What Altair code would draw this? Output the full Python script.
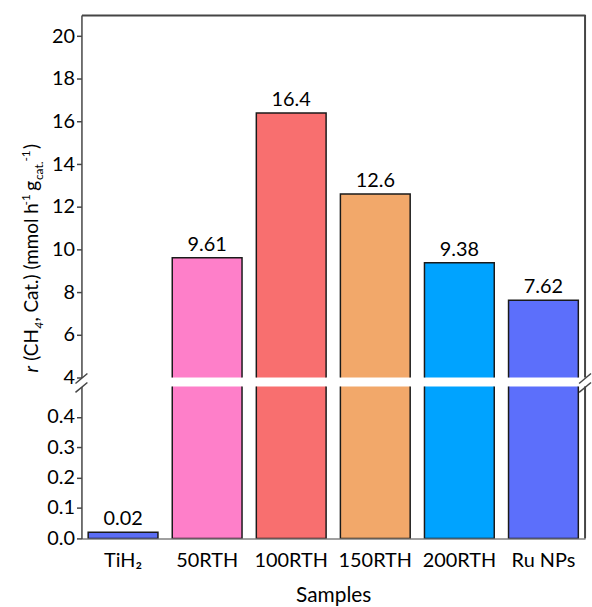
import altair as alt
import pandas as pd

samples = ["TiH₂", "50RTH", "100RTH", "150RTH", "200RTH", "Ru NPs"]
rates = [0.02, 9.61, 16.4, 12.6, 9.38, 7.62]
rate_labels = ["0.02", "9.61", "16.4", "12.6", "9.38", "7.62"]
colors = ["#5b6df4", "#fe7fc9", "#f86f6f", "#f2a86a", "#00a3ff", "#5c6ffb"]
upper_ticks = [4, 6, 8, 10, 12, 14, 16, 18, 20]
lower_ticks = [0.0, 0.1, 0.2, 0.3, 0.4]
upper_domain = [4, 21]
lower_domain = [0, 0.5]

df = pd.DataFrame({"sample": samples, "rate": rates, "label": rate_labels})
one = pd.DataFrame({"k": [0]})

FONT = "Lato"
FS = 20
W = 507
HU = 365
HL = 153
FRAME = "#454545"

xscale = alt.Scale(domain=samples, paddingInner=0.17, paddingOuter=0.08)
color = alt.Color("sample:N", scale=alt.Scale(domain=samples, range=colors), legend=None)

# ---------- upper panel ----------
yU = alt.Y("rate:Q", scale=alt.Scale(domain=upper_domain, zero=False, nice=False),
           axis=alt.Axis(values=upper_ticks, title=None, format="d", grid=False))
xU = alt.X("sample:N", sort=samples, scale=xscale,
           axis=alt.Axis(orient="top", labels=False, ticks=False, title=None,
                         domainColor=FRAME, domainWidth=2))

bars_u = alt.Chart(df).mark_bar(clip=True, stroke="#1a1a1a", strokeWidth=1.5).encode(
    x=xU, y=yU, y2=alt.datum(0), color=color)
text_u = alt.Chart(df).transform_filter("datum.rate >= 4").mark_text(
    baseline="bottom", dy=-3, fontSize=FS, font=FONT, color="black").encode(
    x=alt.X("sample:N", sort=samples, scale=xscale), y=yU, text="label:N")
right_u = alt.Chart(one).mark_rule(color=FRAME, strokeWidth=2).encode(
    x=alt.value(W), y=alt.value(0), y2=alt.value(HU))

# y-axis title pieces (rotated text, chained by approximate advance widths)
TX = -44
TFS = 19
SUB = 12
# (text, approx width in em incl. spacing, font size, baseline shift, style)
pieces = [
    ("r", 0.62, TFS, 0, "italic"),
    ("(CH", 1.70, TFS, 0, "normal"),
    ("4", 0.60, SUB, 5, "italic"),
    (", Cat.) (mmol h", 6.15, TFS, 0, "normal"),
    ("-1", 1.25, SUB, -8, "normal"),
    ("g", 0.56, TFS, 0, "normal"),
    ("cat.", 1.55, SUB, 5, "normal"),
    ("-1", 1.05, SUB, -8, "normal"),
    (")", 0.30, TFS, 0, "normal"),
]
title_layers = []
ypos = 360.0
for txt, em, fs, shift, st in pieces:
    title_layers.append(
        alt.Chart(one).mark_text(text=txt, angle=270, align="left", baseline="alphabetic",
                                 fontSize=fs, font=FONT, fontStyle=st, color="black").encode(
            x=alt.value(TX + shift), y=alt.value(ypos)))
    ypos -= em * fs

upper = alt.layer(bars_u, text_u, right_u, *title_layers).properties(width=W, height=HU)

# ---------- lower panel ----------
yL = alt.Y("rate:Q", scale=alt.Scale(domain=lower_domain, nice=False),
           axis=alt.Axis(values=lower_ticks, title=None, format=".1f", grid=False))
xL = alt.X("sample:N", sort=samples, scale=xscale,
           axis=alt.Axis(title="Samples", labelAngle=0, ticks=False, labelPadding=12,
                         domainColor="#808080", domainWidth=1.5, titlePadding=15,
                         titleFontSize=21))
bars_l = alt.Chart(df).mark_bar(clip=True, stroke="#1a1a1a", strokeWidth=1.5).encode(
    x=xL, y=yL, y2=alt.datum(0), color=color)
text_l = alt.Chart(df).transform_filter("datum.rate < 4").mark_text(
    baseline="bottom", dy=-3, fontSize=FS, font=FONT, color="black").encode(
    x=alt.X("sample:N", sort=samples, scale=xscale), y=yL, text="label:N")
right_l = alt.Chart(one).mark_rule(color=FRAME, strokeWidth=2).encode(
    x=alt.value(W), y=alt.value(0), y2=alt.value(HL))

breaks = []
for bx in [0, W]:
    for cy in [-8, 1]:
        breaks.append(alt.Chart(one).mark_rule(color=FRAME, strokeWidth=1.5).encode(
            x=alt.value(bx - 6), x2=alt.value(bx + 6),
            y=alt.value(cy + 5), y2=alt.value(cy - 5)))

lower = alt.layer(bars_l, text_l, right_l, *breaks).properties(width=W, height=HL)

chart = alt.vconcat(upper, lower, spacing=9, bounds="flush").properties(
    padding={"left": 20, "top": 12, "right": 0, "bottom": 0}
).configure_view(stroke=None).configure_axis(
    labelFont=FONT, labelFontSize=FS, labelColor="black",
    titleFont=FONT, titleFontSize=20, titleFontWeight="normal", titleColor="black",
    domainColor=FRAME, domainWidth=1.5, tickColor=FRAME, tickWidth=1.5, tickSize=5,
    labelPadding=2,
)

chart.save("out.html", embed_options={"renderer": "svg", "actions": False})
